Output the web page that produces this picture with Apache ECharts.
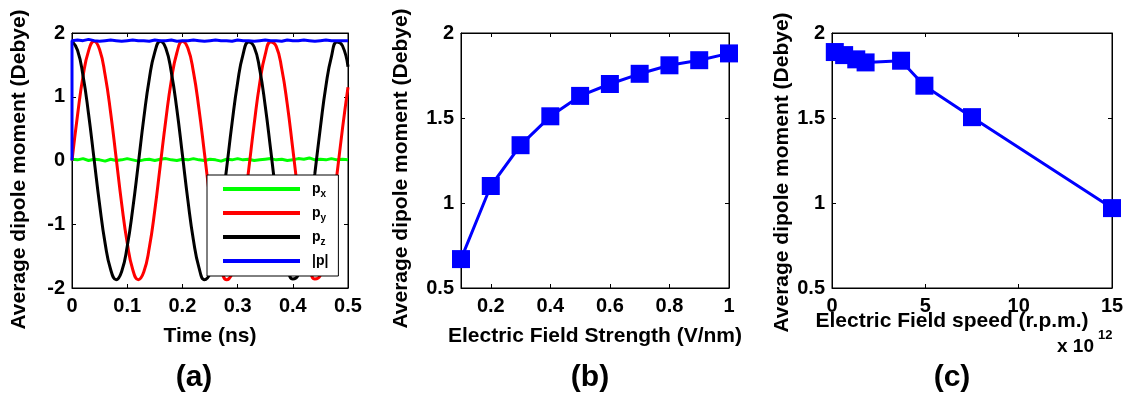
<!DOCTYPE html>
<html>
<head>
<meta charset="utf-8">
<title>Average dipole moment</title>
<script src="https://cdn.jsdelivr.net/npm/echarts@6/dist/echarts.min.js"></script>
<style>
	html, body { margin: 0; padding: 0; background: #fff; }
	#main { width: 1128px; height: 400px; }
</style>
</head>
<body>
<div id="main"></div>
<script>
	// (a) dipole components vs time
	var timeNs = [0, 0.01, 0.02, 0.03, 0.04, 0.05, 0.06, 0.07, 0.08, 0.09,
		0.10, 0.11, 0.12, 0.13, 0.14, 0.15, 0.16, 0.17, 0.18, 0.19,
		0.20, 0.21, 0.22, 0.23, 0.24, 0.25, 0.26, 0.27, 0.28, 0.29,
		0.30, 0.31, 0.32, 0.33, 0.34, 0.35, 0.36, 0.37, 0.38, 0.39,
		0.40, 0.41, 0.42, 0.43, 0.44, 0.45, 0.46, 0.47, 0.48, 0.49, 0.50];
	var px = [0.02, 0.01, 0.03, 0.00, 0.02, 0.01, -0.01, 0.02, 0.00, 0.01,
		0.03, 0.01, -0.01, 0.01, 0.02, 0.00, 0.02, 0.03, 0.01, 0.00,
		0.02, 0.01, 0.03, 0.01, 0.00, 0.02, 0.01, -0.01, 0.02, 0.01,
		0.03, 0.01, 0.02, 0.00, 0.01, 0.02, 0.03, 0.01, 0.02, 0.00,
		0.01, 0.03, 0.02, 0.04, 0.01, 0.02, 0.01, 0.03, 0.01, 0.02, 0.01];
	var py = [0, 0.71, 1.32, 1.72, 1.87, 1.74, 1.34, 0.75, 0.04, -0.68,
		-1.29, -1.71, -1.87, -1.75, -1.37, -0.78, -0.07, 0.64, 1.26, 1.69,
		1.87, 1.76, 1.39, 0.81, 0.11, -0.61, -1.24, -1.68, -1.87, -1.77,
		-1.42, -0.84, -0.15, 0.57, 1.21, 1.66, 1.86, 1.79, 1.44, 0.88,
		0.18, -0.54, -1.18, -1.64, -1.86, -1.80, -1.46, -0.91, -0.22, 0.50, 1.15];
	var pz = [1.87, 1.73, 1.33, 0.73, 0.02, -0.69, -1.30, -1.71, -1.87, -1.74,
		-1.35, -0.76, -0.06, 0.66, 1.28, 1.70, 1.87, 1.76, 1.38, 0.80,
		0.09, -0.63, -1.25, -1.68, -1.87, -1.77, -1.40, -0.83, -0.13, 0.59,
		1.22, 1.67, 1.86, 1.78, 1.43, 0.86, 0.16, -0.56, -1.19, -1.65,
		-1.86, -1.79, -1.45, -0.89, -0.20, 0.52, 1.17, 1.63, 1.86, 1.80, 1.47];
	// |p| starts from 0 at t = 0
	var pAbsTime = [0].concat(timeNs);
	var pAbs = [0,
		1.88, 1.89, 1.88, 1.90, 1.88, 1.87, 1.88, 1.89, 1.88, 1.87,
		1.88, 1.89, 1.88, 1.88, 1.87, 1.89, 1.88, 1.88, 1.89, 1.87,
		1.88, 1.88, 1.89, 1.88, 1.87, 1.88, 1.89, 1.88, 1.88, 1.87,
		1.89, 1.88, 1.88, 1.87, 1.88, 1.89, 1.88, 1.88, 1.87, 1.89,
		1.88, 1.88, 1.89, 1.88, 1.87, 1.88, 1.89, 1.88, 1.88, 1.88, 1.88];

	// (b) field strength
	var fieldStrength = [0.1, 0.2, 0.3, 0.4, 0.5, 0.6, 0.7, 0.8, 0.9, 1.0];
	var dipoleB = [0.67, 1.10, 1.34, 1.51, 1.63, 1.70, 1.76, 1.81, 1.84, 1.88];
	var strengthTicks = [0.2, 0.4, 0.6, 0.8, 1];

	// (c) field speed, x 10^12 r.p.m.
	var fieldSpeed = [0.15, 0.65, 1.3, 1.8, 3.7, 4.95, 7.5, 15];
	var dipoleC = [1.888, 1.87, 1.845, 1.827, 1.837, 1.69, 1.505, 0.97];

	var font = 'Liberation Sans';
	var tickFont = { fontFamily: font, fontWeight: 'bold', fontSize: 20, color: '#000' };
	var nameFont = { fontFamily: font, fontWeight: 'bold', fontSize: 21, color: '#000' };

	function pairs(xs, ys) {
		return xs.map(function (x, i) { return [x, ys[i]]; });
	}

	// one value axis, either the labelled one or the bare mirror on the other side
	function axis(grid, pos, min, max, interval, name, nameGap, extra) {
		var labelled = (pos === 'bottom' || pos === 'left');
		var a = {
			type: 'value', gridIndex: grid, position: pos,
			min: min, max: max, interval: interval,
			splitLine: { show: false },
			axisLine: { show: true, onZero: false, lineStyle: { color: '#000', width: 1 } },
			axisTick: { show: true, inside: true, length: 4, lineStyle: { color: '#000', width: 1 } },
			axisLabel: Object.assign({ show: labelled, margin: (pos === 'left' ? 7 : 8) }, tickFont)
		};
		if (labelled) {
			a.name = name;
			a.nameLocation = 'middle';
			a.nameGap = nameGap;
			a.nameMoveOverlap = false;
			a.nameTextStyle = Object.assign({}, nameFont);
		}
		if (extra) {
			if (extra.ticks) {
				a.axisTick.customValues = extra.ticks;
				a.axisLabel.customValues = extra.ticks;
			}
			if (extra.namePadding && labelled) a.nameTextStyle.padding = extra.namePadding;
		}
		return a;
	}

	var legendNames = { 'px': '{b|p}{s|x}', 'py': '{b|p}{s|y}', 'pz': '{b|p}{s|z}', '|p|': '{b||p|}' };

	var myChart = echarts.init(document.getElementById('main'));

	var gridBase = { top: 33, height: 255, show: true, borderColor: '#000', borderWidth: 1, outerBoundsMode: 'none', containLabel: false };

	var option = {
		animation: false,
		backgroundColor: '#fff',
		grid: [
			Object.assign({ left: 72, width: 276 }, gridBase),
			Object.assign({ left: 461, width: 268 }, gridBase),
			Object.assign({ left: 832, width: 280 }, gridBase)
		],
		xAxis: [
			axis(0, 'bottom', 0, 0.5, 0.1, 'Time (ns)', 38),
			axis(0, 'top', 0, 0.5, 0.1),
			axis(1, 'bottom', 0.1, 1, null, 'Electric Field Strength (V/nm)', 38, { ticks: strengthTicks }),
			axis(1, 'top', 0.1, 1, null, '', 0, { ticks: strengthTicks }),
			axis(2, 'bottom', 0, 15, 5, 'Electric Field speed (r.p.m.)', 23, { namePadding: [0, 40, 0, 0] }),
			axis(2, 'top', 0, 15, 5)
		],
		yAxis: [
			axis(0, 'left', -2, 2, 1, 'Average dipole moment (Debye)', 42, { namePadding: [0, 18, 0, 0] }),
			axis(0, 'right', -2, 2, 1),
			axis(1, 'left', 0.5, 2, 0.5, 'Average dipole moment (Debye)', 49, { namePadding: [0, 16, 0, 0] }),
			axis(1, 'right', 0.5, 2, 0.5),
			axis(2, 'left', 0.5, 2, 0.5, 'Average dipole moment (Debye)', 39, { namePadding: [0, 24, 0, 0] }),
			axis(2, 'right', 0.5, 2, 0.5)
		],
		legend: {
			data: ['px', 'py', 'pz', '|p|'],
			orient: 'vertical',
			left: 207, top: 175,
			width: 130,
			padding: [7, 10, 8, 16],
			itemGap: 7,
			itemWidth: 77,
			itemHeight: 4,
			icon: 'rect',
			backgroundColor: '#fff',
			borderColor: '#000',
			borderWidth: 1,
			borderRadius: 0,
			formatter: function (name) { return legendNames[name]; },
			textStyle: {
				padding: [0, 0, 0, 7],
				rich: {
					b: { fontFamily: font, fontWeight: 'bold', fontSize: 14, lineHeight: 20, color: '#000' },
					s: { fontFamily: font, fontWeight: 'bold', fontSize: 10, verticalAlign: 'bottom', color: '#000' }
				}
			}
		},
		graphic: [
			{ type: 'text', x: 194, y: 378, style: { text: '(a)', align: 'center', verticalAlign: 'middle', fontFamily: font, fontWeight: 'bold', fontSize: 30, fill: '#000' } },
			{ type: 'text', x: 590, y: 378, style: { text: '(b)', align: 'center', verticalAlign: 'middle', fontFamily: font, fontWeight: 'bold', fontSize: 30, fill: '#000' } },
			{ type: 'text', x: 952, y: 378, style: { text: '(c)', align: 'center', verticalAlign: 'middle', fontFamily: font, fontWeight: 'bold', fontSize: 30, fill: '#000' } },
			{ type: 'text', x: 1057, y: 337, style: { text: 'x 10', fontFamily: font, fontWeight: 'bold', fontSize: 19, fill: '#000' } },
			{ type: 'text', x: 1098, y: 329, style: { text: '12', fontFamily: font, fontWeight: 'bold', fontSize: 13, fill: '#000' } }
		],
		series: [
			{
				name: 'px', type: 'line', xAxisIndex: 0, yAxisIndex: 0,
				data: pairs(timeNs, px), showSymbol: false,
				itemStyle: { color: '#00ff00' }, lineStyle: { color: '#00ff00', width: 3 }
			},
			{
				name: 'py', type: 'line', xAxisIndex: 0, yAxisIndex: 0,
				data: pairs(timeNs, py), showSymbol: false, smooth: true,
				itemStyle: { color: '#ff0000' }, lineStyle: { color: '#ff0000', width: 3 }
			},
			{
				name: 'pz', type: 'line', xAxisIndex: 0, yAxisIndex: 0,
				data: pairs(timeNs, pz), showSymbol: false, smooth: true,
				itemStyle: { color: '#000000' }, lineStyle: { color: '#000000', width: 3 }
			},
			{
				name: '|p|', type: 'line', xAxisIndex: 0, yAxisIndex: 0,
				data: pairs(pAbsTime, pAbs), showSymbol: false,
				itemStyle: { color: '#0000ff' }, lineStyle: { color: '#0000ff', width: 3 }
			},
			{
				name: 'strength', type: 'line', xAxisIndex: 2, yAxisIndex: 2,
				data: pairs(fieldStrength, dipoleB),
				symbol: 'rect', symbolSize: 18,
				itemStyle: { color: '#0000ff' }, lineStyle: { color: '#0000ff', width: 3 }
			},
			{
				name: 'speed', type: 'line', xAxisIndex: 4, yAxisIndex: 4,
				data: pairs(fieldSpeed, dipoleC),
				symbol: 'rect', symbolSize: 18,
				itemStyle: { color: '#0000ff' }, lineStyle: { color: '#0000ff', width: 3 }
			}
		]
	};
	myChart.setOption(option);
</script>
</body>
</html>
